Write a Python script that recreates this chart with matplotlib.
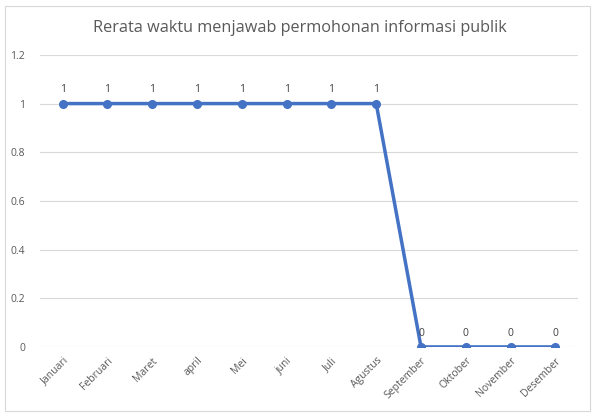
import matplotlib.pyplot as plt
from matplotlib.patches import Rectangle

bulan = ['Januari', 'Februari', 'Maret', 'april', 'Mei', 'juni', 'Juli', 'Agustus',
         'September', 'Oktober', 'November', 'Desember']
rerata = [1, 1, 1, 1, 1, 1, 1, 1, 0, 0, 0, 0]
yticks = [0, 0.2, 0.4, 0.6, 0.8, 1, 1.2]
ylabels = ['0', '0.2', '0.4', '0.6', '0.8', '1', '1.2']

plt.rcParams['font.family'] = ['Open Sans', 'DejaVu Sans']
teks = '#595959'

fig = plt.figure(figsize=(6, 4.19), dpi=100)
ax = fig.add_axes([0.067, 0.172, 0.896, 0.697])

x = list(range(len(bulan)))
ax.plot(x, rerata, color='#4472C4', linewidth=2.5, marker='o', markersize=5.5)
for xi, v in zip(x, rerata):
    ax.annotate(str(v), (xi, v), xytext=(0, 6), textcoords='offset points',
                ha='center', va='bottom', fontsize=7.5, color='#404040')

ax.set_xlim(-0.5, len(bulan) - 0.5)
ax.set_ylim(0, 1.2)
ax.set_yticks(yticks)
ax.set_yticklabels(ylabels)
ax.set_xticks(x)
ax.set_xticklabels(bulan, rotation=45, ha='right', rotation_mode='anchor')
ax.tick_params(length=0, labelsize=7.5, colors=teks)
ax.tick_params(axis='y', pad=11)
ax.tick_params(axis='x', pad=6)
ax.grid(axis='y', color='#D9D9D9', linewidth=0.8)
ax.set_axisbelow(True)
for s in ax.spines.values():
    s.set_visible(False)

fig.text(0.5, 0.933, 'Rerata waktu menjawab permohonan informasi publik', fontsize=11.7,
         color=teks, ha='center', va='center')

fig.patches.append(Rectangle((0.008, 0.02), 0.975, 0.965, transform=fig.transFigure,
                             fill=False, edgecolor='#D9D9D9', linewidth=0.8))

fig.savefig('out.png', dpi=100)
